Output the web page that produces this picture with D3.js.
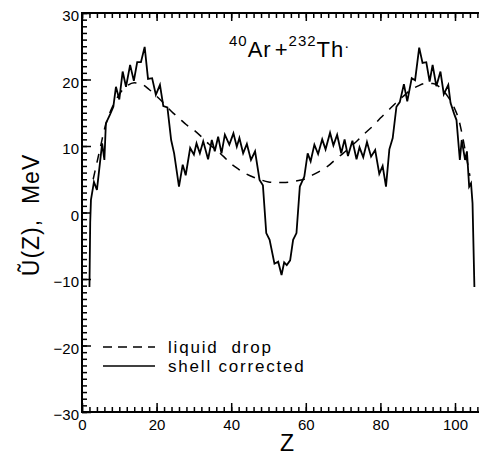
<!DOCTYPE html>
<html><head><meta charset="utf-8">
<script src="https://cdn.jsdelivr.net/npm/d3@7"></script>
<style>
html,body{margin:0;padding:0;background:#fff;}
svg{display:block;font-family:"Liberation Sans",Arial,Helvetica,sans-serif;}
</style></head>
<body>
<svg id="chart" width="479" height="455"></svg>
<script>
// ---- data ----
const shellZ = [2.0,2.2,2.4,3.2,4.0,4.8,5.4,6.0,6.4,7.5,8.4,9.1,10.0,10.9,11.8,12.9,13.9,14.8,15.8,16.8,17.7,18.8,19.8,20.9,21.8,22.9,23.9,24.7,26.0,27.0,27.8,29.0,30.0,30.7,31.6,32.5,33.8,34.8,35.6,36.5,37.4,38.3,39.5,40.6,41.5,42.2,43.2,44.2,45.3,46.4,47.6,48.5,49.4,50.3,51.6,52.6,53.5,54.2,54.9,55.8,56.6,57.5,58.4,59.6,60.5,61.3,62.3,63.3,64.4,65.3,66.5,67.4,68.4,69.5,70.4,71.3,72.5,73.6,74.4,75.4,76.4,77.5,78.6,79.7,80.6,81.5,82.4,83.3,84.3,85.2,86.3,87.2,88.4,89.3,90.4,91.3,92.3,93.2,94.0,95.0,96.1,97.0,98.2,98.8,99.8,100.4,101.3,101.8,102.7,103.2,103.8,104.3,104.7,105.2];
const shellU = [-11.2,-1.5,1.9,4.6,3.4,7.4,10.4,7.9,13.4,14.7,15.9,18.9,17.0,21.2,18.9,22.2,19.8,22.6,22.6,24.9,20.1,20.2,17.7,19.2,16.0,15.8,10.9,8.9,3.9,7.2,5.6,9.7,8.7,10.4,8.9,10.7,8.0,10.9,9.2,11.4,8.9,11.7,10.2,11.9,9.9,11.2,8.9,10.3,7.9,9.2,4.9,4.1,-3.1,-4.1,-7.7,-7.4,-9.4,-7.5,-7.9,-7.2,-4.1,-3.1,3.9,5.4,8.9,7.7,10.2,8.8,11.0,9.5,12.0,10.1,11.7,8.9,11.0,8.5,10.8,8.0,9.8,8.3,10.6,8.4,9.4,5.8,7.0,3.9,9.5,11.2,15.9,16.6,19.3,16.7,20.2,19.9,24.8,22.5,22.6,19.7,22.2,19.0,21.2,17.8,19.2,16.5,14.8,13.9,7.9,10.9,7.9,9.2,3.9,4.4,1.4,-11.2];

const dropZ = [3,4,5,6,7,8,9,10,12,14,16,18,20,22,24,26,28,30,32,34,36,38,40,42,44,46,48,50,52,54,56,58,60,62,64,66,68,70,72,74,76,78,80,82,84,86,88,90,92,94,96,98,100,101,102,103,104];
const dropU = [5.0,7.5,10.0,12.5,14.3,15.7,16.8,17.8,19.0,19.5,19.3,18.5,17.5,16.4,15.2,14.2,13.2,12.4,11.4,10.3,9.4,8.4,7.3,6.5,5.8,5.3,4.9,4.6,4.5,4.5,4.6,4.8,5.1,5.7,6.3,7.0,8.0,8.9,9.9,10.9,12.0,13.0,14.2,15.3,16.4,17.4,18.4,19.0,19.4,19.4,18.8,17.5,15.5,14.0,11.5,8.5,5.5];

const xMajor = [0,20,40,60,80,100];
const yMajor = [-30,-20,-10,0,10,20,30];
const legendLabels = ["liquid  drop","shell corrected"];

// ---- layout ----
const svg = d3.select("#chart");
const x = d3.scaleLinear().domain([0,100]).range([82,455]);
const xMax = x.invert(481);
const y = d3.scaleLinear().domain([-30,30]).range([412,13]);

const xMinor = d3.range(0, xMax, 2);
const yMinor = d3.range(-30, 31, 1);
const fmt = d => d < 0 ? "\u2212" + Math.abs(d) : String(d);

function styleAxis(g){
  g.select(".domain").remove();
  g.selectAll("line").attr("stroke","#000").attr("stroke-width",1.5);
  g.selectAll("text").attr("fill","#000").attr("font-size",15);
}
// minor ticks
svg.append("g").attr("transform",`translate(${x(0)},0)`)
  .call(d3.axisLeft(y).tickValues(yMinor).tickSize(-5).tickFormat("")).call(styleAxis);
svg.append("g").attr("transform",`translate(0,${y(-30)})`)
  .call(d3.axisBottom(x).tickValues(xMinor).tickSize(-5).tickFormat("")).call(styleAxis);
svg.append("g").attr("transform",`translate(0,${y(30)})`)
  .call(d3.axisTop(x).tickValues(xMinor).tickSize(-5).tickFormat("")).call(styleAxis);
// major ticks
svg.append("g").attr("transform",`translate(${x(0)},0)`)
  .call(d3.axisLeft(y).tickValues(yMajor).tickSize(-9).tickPadding(3).tickFormat(fmt)).call(styleAxis)
  .selectAll("text").attr("dy","0.5em");
svg.append("g").attr("transform",`translate(0,${y(-30)})`)
  .call(d3.axisBottom(x).tickValues(xMajor).tickSize(-9).tickPadding(7).tickFormat(fmt)).call(styleAxis);
svg.append("g").attr("transform",`translate(0,${y(30)})`)
  .call(d3.axisTop(x).tickValues(xMajor).tickSize(-8).tickFormat("")).call(styleAxis);

// frame
svg.append("path")
  .attr("d",`M${x(xMax)},${y(30)}H${x(0)}V${y(-30)}H${x(xMax)}`)
  .attr("fill","none").attr("stroke","#000").attr("stroke-width",2);

// curves
const line = d3.line().x(d=>x(d[0])).y(d=>y(d[1]));
svg.append("path").datum(dropZ.map((z,i)=>[z,dropU[i]]))
  .attr("d", line.curve(d3.curveMonotoneX)).attr("fill","none").attr("stroke","#000")
  .attr("stroke-width",1.5).attr("stroke-dasharray","9,8");
svg.append("path").datum(shellZ.map((z,i)=>[z,shellU[i]]))
  .attr("d", d3.line().x(d=>x(d[0])).y(d=>y(d[1]))).attr("fill","none").attr("stroke","#000")
  .attr("stroke-width",1.8).attr("stroke-linejoin","miter");

// axis titles
svg.append("text").attr("transform","translate(39,215) rotate(-90)")
  .attr("text-anchor","middle").attr("font-size",23).attr("letter-spacing","1px").attr("fill","#000")
  .style("white-space","pre").text("\u0168(Z),  MeV");
svg.append("text").attr("x",287).attr("y",451).attr("text-anchor","middle")
  .attr("font-size",23).attr("fill","#000").text("Z");

// reaction title
const t = svg.append("text").attr("x",229).attr("y",57).attr("font-size",22).attr("fill","#000")
  .attr("letter-spacing","1px");
t.append("tspan").attr("font-size",15).attr("dy",-11).text("40");
t.append("tspan").attr("dy",11).text("Ar");
t.append("tspan").attr("dx",3).text("+");
t.append("tspan").attr("font-size",15).attr("dy",-11).text("232");
t.append("tspan").attr("dy",11).text("Th");
t.append("tspan").attr("font-size",15).attr("dy",-6).text("\u00b7");

// legend
const leg = [{y:347, dash:"9,6"},{y:366, dash:null}];
leg.forEach((l,i)=>{
  svg.append("line").attr("x1",103).attr("x2",155).attr("y1",l.y).attr("y2",l.y)
    .attr("stroke","#000").attr("stroke-width",1.5).attr("stroke-dasharray",l.dash);
  svg.append("text").attr("x",168).attr("y",l.y+6).attr("font-size",17)
    .attr("letter-spacing","1.8px").attr("fill","#000").style("white-space","pre").text(legendLabels[i]);
});
</script>
</body></html>
